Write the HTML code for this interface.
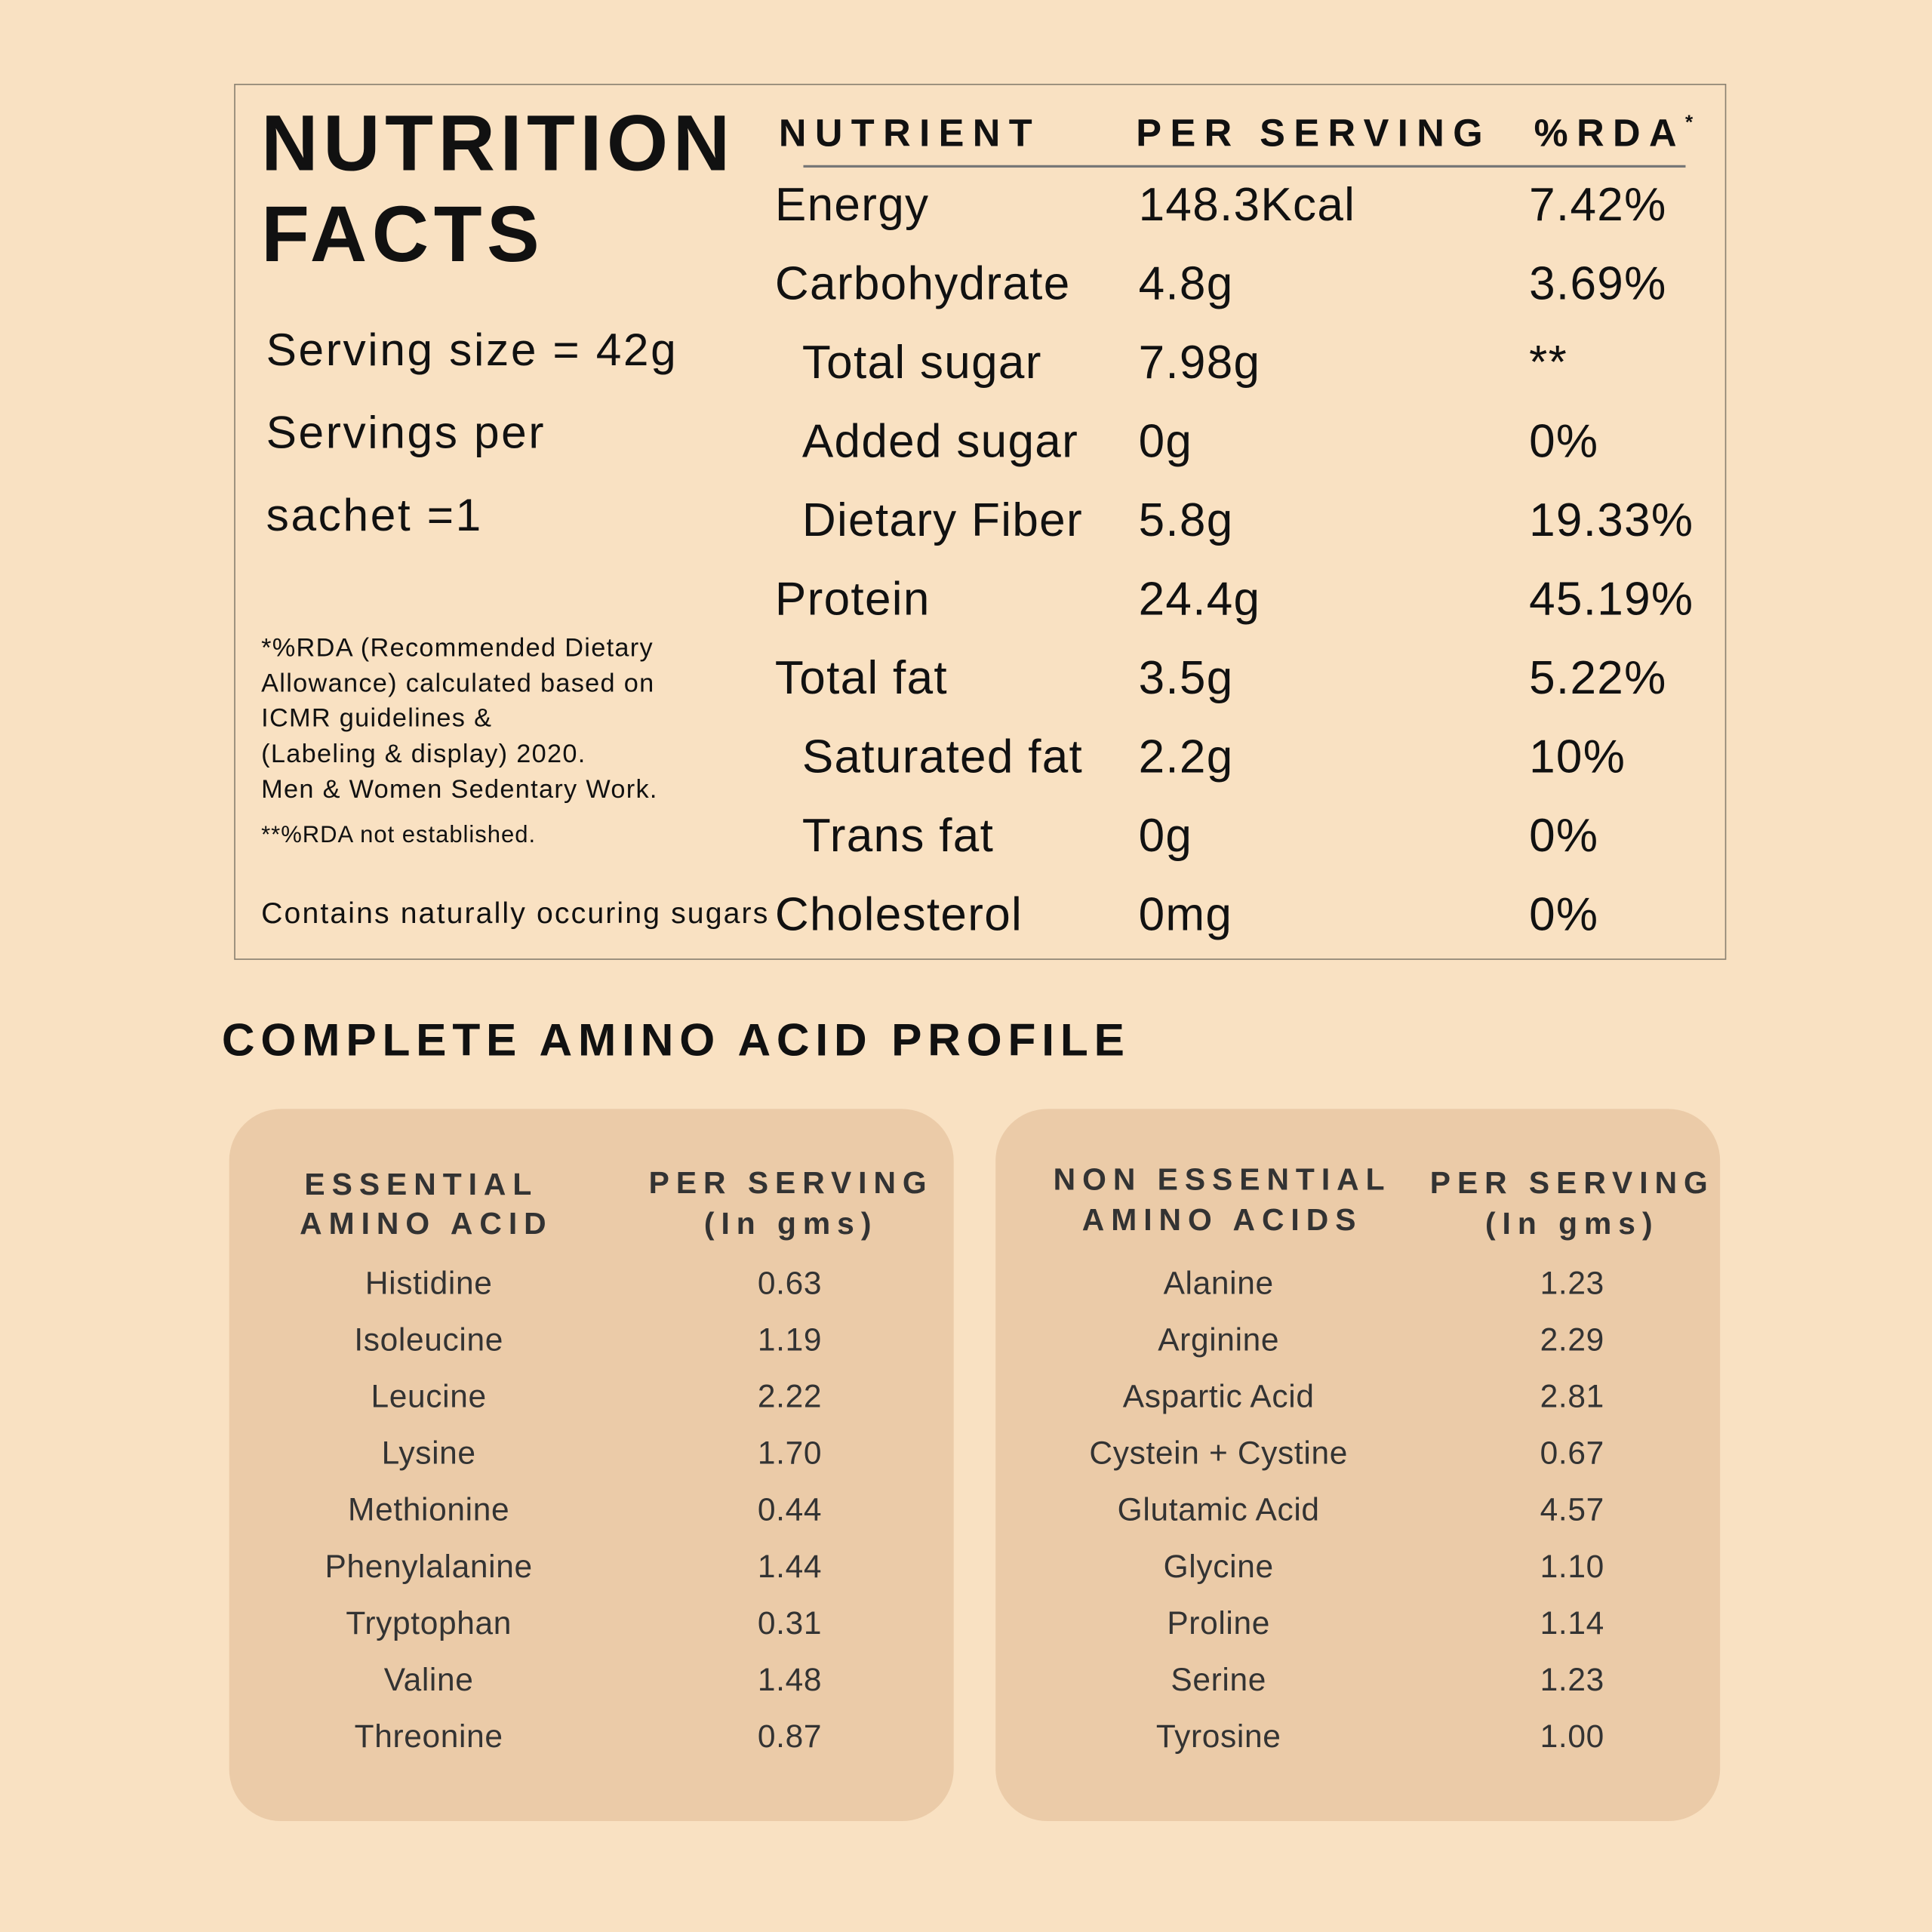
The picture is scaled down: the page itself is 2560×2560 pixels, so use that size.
<!DOCTYPE html>
<html><head><meta charset="utf-8"><style>
html,body{margin:0;padding:0;background:#f9e1c2;}
body{width:2560px;height:2560px;overflow:hidden;}
#w{position:absolute;left:0;top:0;width:1568px;height:1568px;transform:scale(1.63265);transform-origin:0 0;font-family:"Liberation Sans","DejaVu Sans",sans-serif;color:#111;}
.t{position:absolute;white-space:nowrap;line-height:1;transform:translateY(-50%);}
.c{transform:translate(-50%,-50%);text-align:center;}
.box{position:absolute;left:190px;top:68px;width:1209px;height:709px;border:1.5px solid #8a8070;}
.big{font-weight:bold;font-size:64px;letter-spacing:4px;}
.h{font-weight:bold;font-size:31px;letter-spacing:7px;}
.r{font-size:38px;letter-spacing:0.8px;}
.s{font-size:37px;letter-spacing:1.6px;}
.f{font-size:21px;letter-spacing:0.8px;}
.panel{position:absolute;top:900px;width:588px;height:578px;border-radius:42px;background:#ebcba8;}
.ph{font-weight:bold;font-size:25px;letter-spacing:5.5px;color:#333;}
.a{font-size:26px;letter-spacing:0.4px;color:#333;}
</style></head><body><div id="w">
<div class="box"></div>
<div class="t big" style="left:212px;top:116px">NUTRITION</div>
<div class="t big" style="left:212px;top:190px">FACTS</div>
<div class="t h" style="left:632px;top:108px">NUTRIENT</div>
<div class="t h" style="left:922px;top:108px">PER SERVING</div>
<div class="t h" style="left:1245px;top:108px">%RDA<span style="font-size:16px;vertical-align:top;letter-spacing:0">*</span></div>
<div style="position:absolute;left:652px;top:134px;width:716px;height:1.5px;background:#777"></div>

<div class="t r" style="left:629px;top:167px">Energy</div><div class="t r" style="left:924px;top:167px">148.3Kcal</div><div class="t r" style="left:1241px;top:167px">7.42%</div>
<div class="t r" style="left:629px;top:231px">Carbohydrate</div><div class="t r" style="left:924px;top:231px">4.8g</div><div class="t r" style="left:1241px;top:231px">3.69%</div>
<div class="t r" style="left:651px;top:295px">Total sugar</div><div class="t r" style="left:924px;top:295px">7.98g</div><div class="t r" style="left:1241px;top:295px">**</div>
<div class="t r" style="left:651px;top:359px">Added sugar</div><div class="t r" style="left:924px;top:359px">0g</div><div class="t r" style="left:1241px;top:359px">0%</div>
<div class="t r" style="left:651px;top:423px">Dietary Fiber</div><div class="t r" style="left:924px;top:423px">5.8g</div><div class="t r" style="left:1241px;top:423px">19.33%</div>
<div class="t r" style="left:629px;top:487px">Protein</div><div class="t r" style="left:924px;top:487px">24.4g</div><div class="t r" style="left:1241px;top:487px">45.19%</div>
<div class="t r" style="left:629px;top:551px">Total fat</div><div class="t r" style="left:924px;top:551px">3.5g</div><div class="t r" style="left:1241px;top:551px">5.22%</div>
<div class="t r" style="left:651px;top:615px">Saturated fat</div><div class="t r" style="left:924px;top:615px">2.2g</div><div class="t r" style="left:1241px;top:615px">10%</div>
<div class="t r" style="left:651px;top:679px">Trans fat</div><div class="t r" style="left:924px;top:679px">0g</div><div class="t r" style="left:1241px;top:679px">0%</div>
<div class="t r" style="left:629px;top:743px">Cholesterol</div><div class="t r" style="left:924px;top:743px">0mg</div><div class="t r" style="left:1241px;top:743px">0%</div>

<div class="t s" style="left:216px;top:284px">Serving size = 42g</div>
<div class="t s" style="left:216px;top:351px">Servings per</div>
<div class="t s" style="left:216px;top:418px">sachet =1</div>
<div class="t f" style="left:212px;top:526px">*%RDA (Recommended Dietary</div>
<div class="t f" style="left:212px;top:555px">Allowance) calculated based on</div>
<div class="t f" style="left:212px;top:583px">ICMR guidelines &amp;</div>
<div class="t f" style="left:212px;top:612px">(Labeling &amp; display) 2020.</div>
<div class="t f" style="left:212px;top:641px">Men &amp; Women Sedentary Work.</div>
<div class="t" style="left:212px;top:678px;font-size:19px;letter-spacing:0.6px">**%RDA not established.</div>
<div class="t" style="left:212px;top:742px;font-size:24px;letter-spacing:1.3px">Contains naturally occuring sugars</div>

<div class="t" style="left:180px;top:844px;font-size:37px;font-weight:bold;letter-spacing:4.8px">COMPLETE AMINO ACID PROFILE</div>

<div class="panel" style="left:186px"></div>
<div class="panel" style="left:808px"></div>

<div class="t c ph" style="left:342px;top:962px">ESSENTIAL</div>
<div class="t c ph" style="left:346px;top:994px">AMINO ACID</div>
<div class="t c ph" style="left:642px;top:961px">PER SERVING</div>
<div class="t c ph" style="left:642px;top:994px">(In gms)</div>
<div class="t c ph" style="left:992px;top:958px">NON ESSENTIAL</div>
<div class="t c ph" style="left:992px;top:991px">AMINO ACIDS</div>
<div class="t c ph" style="left:1276px;top:961px">PER SERVING</div>
<div class="t c ph" style="left:1276px;top:994px">(In gms)</div>

<div class="t c a" style="left:348px;top:1041px">Histidine</div><div class="t c a" style="left:641px;top:1041px">0.63</div>
<div class="t c a" style="left:348px;top:1087px">Isoleucine</div><div class="t c a" style="left:641px;top:1087px">1.19</div>
<div class="t c a" style="left:348px;top:1133px">Leucine</div><div class="t c a" style="left:641px;top:1133px">2.22</div>
<div class="t c a" style="left:348px;top:1179px">Lysine</div><div class="t c a" style="left:641px;top:1179px">1.70</div>
<div class="t c a" style="left:348px;top:1225px">Methionine</div><div class="t c a" style="left:641px;top:1225px">0.44</div>
<div class="t c a" style="left:348px;top:1271px">Phenylalanine</div><div class="t c a" style="left:641px;top:1271px">1.44</div>
<div class="t c a" style="left:348px;top:1317px">Tryptophan</div><div class="t c a" style="left:641px;top:1317px">0.31</div>
<div class="t c a" style="left:348px;top:1363px">Valine</div><div class="t c a" style="left:641px;top:1363px">1.48</div>
<div class="t c a" style="left:348px;top:1409px">Threonine</div><div class="t c a" style="left:641px;top:1409px">0.87</div>

<div class="t c a" style="left:989px;top:1041px">Alanine</div><div class="t c a" style="left:1276px;top:1041px">1.23</div>
<div class="t c a" style="left:989px;top:1087px">Arginine</div><div class="t c a" style="left:1276px;top:1087px">2.29</div>
<div class="t c a" style="left:989px;top:1133px">Aspartic Acid</div><div class="t c a" style="left:1276px;top:1133px">2.81</div>
<div class="t c a" style="left:989px;top:1179px">Cystein + Cystine</div><div class="t c a" style="left:1276px;top:1179px">0.67</div>
<div class="t c a" style="left:989px;top:1225px">Glutamic Acid</div><div class="t c a" style="left:1276px;top:1225px">4.57</div>
<div class="t c a" style="left:989px;top:1271px">Glycine</div><div class="t c a" style="left:1276px;top:1271px">1.10</div>
<div class="t c a" style="left:989px;top:1317px">Proline</div><div class="t c a" style="left:1276px;top:1317px">1.14</div>
<div class="t c a" style="left:989px;top:1363px">Serine</div><div class="t c a" style="left:1276px;top:1363px">1.23</div>
<div class="t c a" style="left:989px;top:1409px">Tyrosine</div><div class="t c a" style="left:1276px;top:1409px">1.00</div>
</div></body></html>
